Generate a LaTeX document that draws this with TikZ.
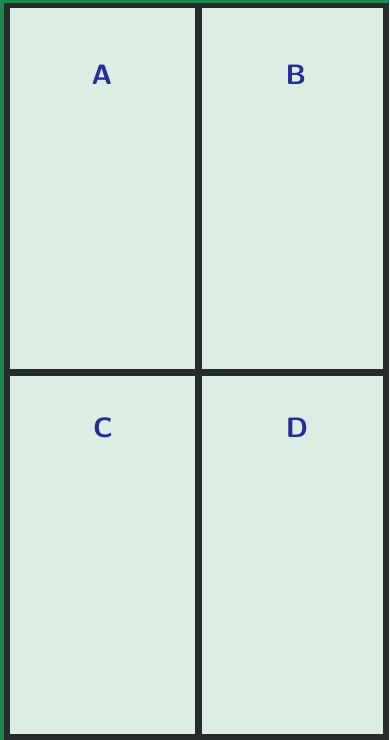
\documentclass[tikz,border=0pt]{standalone}
\usepackage{tikz}
\definecolor{frameDark}{HTML}{272B29}
\definecolor{edgeGreen}{HTML}{1F8A4E}
\definecolor{paneGreen}{HTML}{DEEDE3}
\definecolor{inkBlue}{HTML}{252B9C}

\begin{document}
\begin{tikzpicture}[x=1pt,y=-1pt,
  pane/.style={fill=paneGreen,draw=none},
  lbl/.style={text=inkBlue,font=\sffamily\bfseries\fontsize{28}{28}\selectfont,inner sep=0pt}]
  \useasboundingbox (0,0) rectangle (389,740);
  \fill[frameDark] (0,0) rectangle (389,740);
  \fill[edgeGreen] (0,0) rectangle (4,740);
  \fill[edgeGreen] (0,0) rectangle (389,2.5);
  \foreach \n/\xa/\ya/\xb/\yb/\lx/\ly in {A/10/8/195/369/102/75,B/202/8/383/369/296/75,
      C/10/376/195/734/103/428,D/202/376/383/734/297/428} {
    \fill[pane] (\xa,\ya) rectangle (\xb,\yb);
    \node[lbl] (l\n) at (\lx,\ly) {\n};
  }
\end{tikzpicture}
\end{document}
